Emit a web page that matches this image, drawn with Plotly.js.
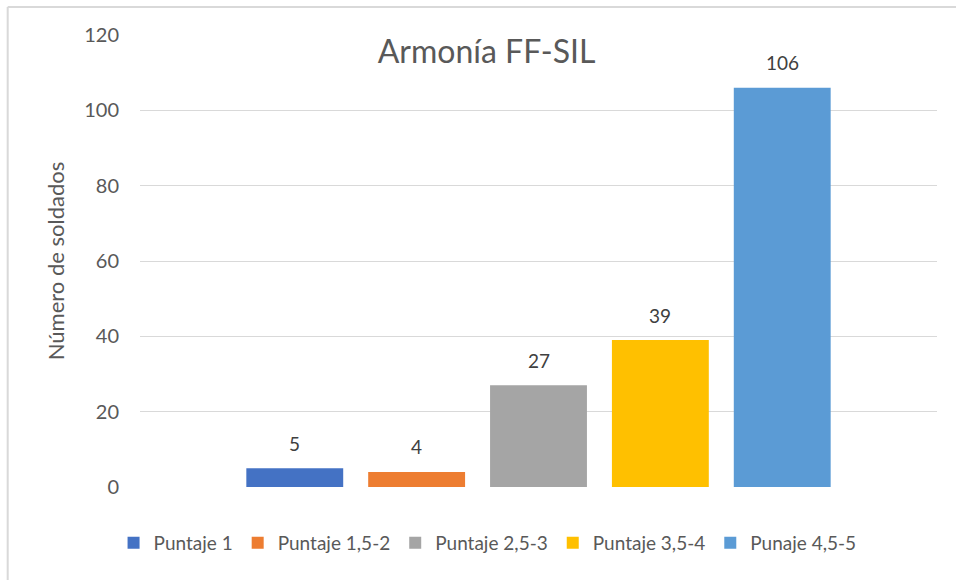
<!DOCTYPE html>
<html>
<head>
<meta charset="utf-8">
<script src="https://cdn.plot.ly/plotly-3.0.1.min.js"></script>
<style>
  html, body { margin: 0; padding: 0; background: #fff; }
  #chart { width: 956px; height: 580px; }
</style>
</head>
<body>
<div id="chart"></div>
<script>
const seriesNames = ["Puntaje 1", "Puntaje 1,5-2", "Puntaje 2,5-3", "Puntaje 3,5-4", "Punaje 4,5-5"];
const seriesValues = [5, 4, 27, 39, 106];
const seriesColors = ["#4472C4", "#ED7D31", "#A5A5A5", "#FFC000", "#5B9BD5"];
const yTicks = [0, 20, 40, 60, 80, 100, 120];
const chartTitle = "Armonía FF-SIL";
const yTitle = "Número de soldados";

const FONT = "Lato, 'Open Sans', sans-serif";

const traces = seriesNames.map((name, i) => ({
  type: "bar",
  name: name,
  x: [name],
  y: [seriesValues[i]],
  width: 0.795,
  marker: { color: seriesColors[i], line: { width: 0 } },
  hoverinfo: "name+y"
}));

const annotations = seriesNames.map((name, i) => ({
  x: name,
  y: seriesValues[i],
  xref: "x",
  yref: "y",
  text: String(seriesValues[i]),
  showarrow: false,
  yanchor: "middle",
  yshift: 25,
  font: { family: FONT, size: 19, color: "#404040" }
}));

const layout = {
  width: 956,
  height: 580,
  paper_bgcolor: "#ffffff",
  plot_bgcolor: "#ffffff",
  margin: { l: 140, r: 19, t: 35, b: 93 },
  barmode: "overlay",
  showlegend: true,
  title: {
    text: chartTitle,
    font: { family: FONT, size: 32, color: "#595959" },
    xref: "container", x: 0.509, xanchor: "center",
    yref: "container", y: 0.91, yanchor: "middle"
  },
  xaxis: {
    type: "category",
    range: [-1.27, 5.27],
    showticklabels: false,
    showgrid: false,
    zeroline: false,
    showline: false,
    ticks: ""
  },
  yaxis: {
    range: [0, 120],
    tickvals: yTicks,
    showgrid: true,
    gridcolor: "#d9d9d9",
    gridwidth: 1,
    zeroline: false,
    showline: false,
    ticks: "",
    ticklabelstandoff: 20,
    tickfont: { family: FONT, size: 20, color: "#595959" },
    title: {
      text: yTitle,
      font: { family: FONT, size: 22, color: "#595959" },
      standoff: 13
    }
  },
  legend: {
    orientation: "h",
    xref: "container", x: 0.51, xanchor: "center",
    yref: "container", y: 0.064, yanchor: "middle",
    font: { family: FONT, size: 19, color: "#595959" },
    itemwidth: 30,
    itemclick: false,
    traceorder: "normal"
  },
  annotations: annotations,
  shapes: [
    { type: "line", xref: "paper", yref: "paper", x0: -0.166, x1: -0.166, y0: -0.3, y1: 1.062,
      line: { color: "#d9d9d9", width: 2 } },
    { type: "line", xref: "paper", yref: "paper", x0: -0.166, x1: 1.03, y0: 1.062, y1: 1.062,
      line: { color: "#d9d9d9", width: 2 } }
  ]
};

Plotly.newPlot("chart", traces, layout, { displayModeBar: false, staticPlot: false });
</script>
</body>
</html>
